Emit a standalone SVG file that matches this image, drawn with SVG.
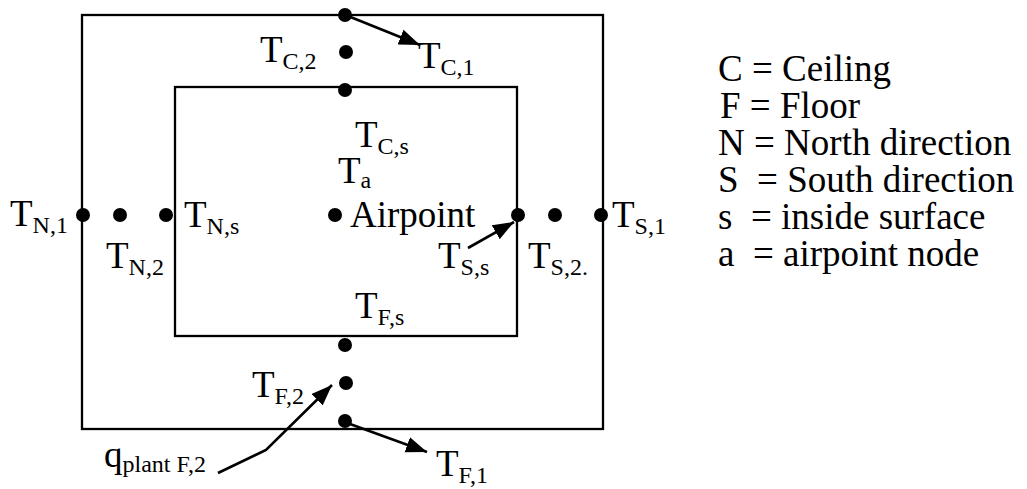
<svg xmlns="http://www.w3.org/2000/svg" width="1027" height="489" viewBox="0 0 1027 489">
<style>
text{font-family:"Liberation Serif","Times New Roman",serif;font-size:37px;fill:#000}
.sub{font-size:24px}
.wall{fill:none;stroke:#000;stroke-width:2.3}
.dot{fill:#000}
.conn{fill:none;stroke:#000;stroke-width:2.6}
</style>
<defs>
<marker id="ah" markerUnits="userSpaceOnUse" markerWidth="24" markerHeight="18" refX="21" refY="8" orient="auto">
<path d="M0,0 L21,8 L0,16 z" fill="#000"/>
</marker>
</defs>
<g id="outer-wall"><rect class="wall" x="82" y="15" width="521" height="414"/></g>
<g id="inner-wall"><rect class="wall" x="175" y="87" width="342" height="249"/></g>
<g id="connectors">
<line class="conn" x1="348" y1="16" x2="420" y2="45" marker-end="url(#ah)"/>
<line class="conn" x1="468" y1="248" x2="514" y2="222" marker-end="url(#ah)"/>
<polyline class="conn" points="218,473 266,450 332,385" marker-end="url(#ah)"/>
<line class="conn" x1="350" y1="424" x2="427" y2="452" marker-end="url(#ah)"/>
</g>
<g id="node-TC1"><circle class="dot" cx="345" cy="15" r="7"/><text x="418" y="68">T<tspan class="sub" dy="7">C,1</tspan></text></g>
<g id="node-TC2"><circle class="dot" cx="346" cy="52" r="7"/><text x="260" y="62">T<tspan class="sub" dy="7">C,2</tspan></text></g>
<g id="node-TCs"><circle class="dot" cx="345" cy="90" r="7"/><text x="355" y="147">T<tspan class="sub" dy="7">C,s</tspan></text></g>
<g id="node-Ta"><circle class="dot" cx="335" cy="215" r="7"/><text x="338" y="183">T<tspan class="sub" dy="5">a</tspan></text><text x="350" y="227">Airpoint</text></g>
<g id="node-TN1"><circle class="dot" cx="83" cy="215" r="7"/><text x="10" y="226">T<tspan class="sub" dy="7">N,1</tspan></text></g>
<g id="node-TN2"><circle class="dot" cx="120" cy="215" r="7"/><text x="106" y="268">T<tspan class="sub" dy="7">N,2</tspan></text></g>
<g id="node-TNs"><circle class="dot" cx="166" cy="215" r="7"/><text x="184" y="227">T<tspan class="sub" dy="7">N,s</tspan></text></g>
<g id="node-TSs"><circle class="dot" cx="518" cy="215" r="7"/><text x="438" y="268">T<tspan class="sub" dy="7">S,s</tspan></text></g>
<g id="node-TS2"><circle class="dot" cx="555" cy="215" r="7"/><text x="528" y="268">T<tspan class="sub" dy="7">S,2.</tspan></text></g>
<g id="node-TS1"><circle class="dot" cx="601" cy="215" r="7"/><text x="612" y="227">T<tspan class="sub" dy="7">S,1</tspan></text></g>
<g id="node-TFs"><circle class="dot" cx="345" cy="345" r="7"/><text x="355" y="318">T<tspan class="sub" dy="7">F,s</tspan></text></g>
<g id="node-TF2"><circle class="dot" cx="346" cy="383" r="7"/><text x="252" y="397">T<tspan class="sub" dy="7">F,2</tspan></text></g>
<g id="node-TF1"><circle class="dot" cx="345" cy="421" r="7"/><text x="436" y="476">T<tspan class="sub" dy="7">F,1</tspan></text></g>
<g id="label-qplant"><text x="104" y="467">q<tspan class="sub" dy="5">plant F,2</tspan></text></g>
<g id="legend">
<text x="718" y="81">C = Ceiling</text>
<text x="720" y="118">F = Floor</text>
<text x="718" y="155">N = North direction</text>
<text x="718" y="192" xml:space="preserve">S  = South direction</text>
<text x="718" y="229" xml:space="preserve">s  = inside surface</text>
<text x="718" y="266" xml:space="preserve">a  = airpoint node</text>
</g>
</svg>
